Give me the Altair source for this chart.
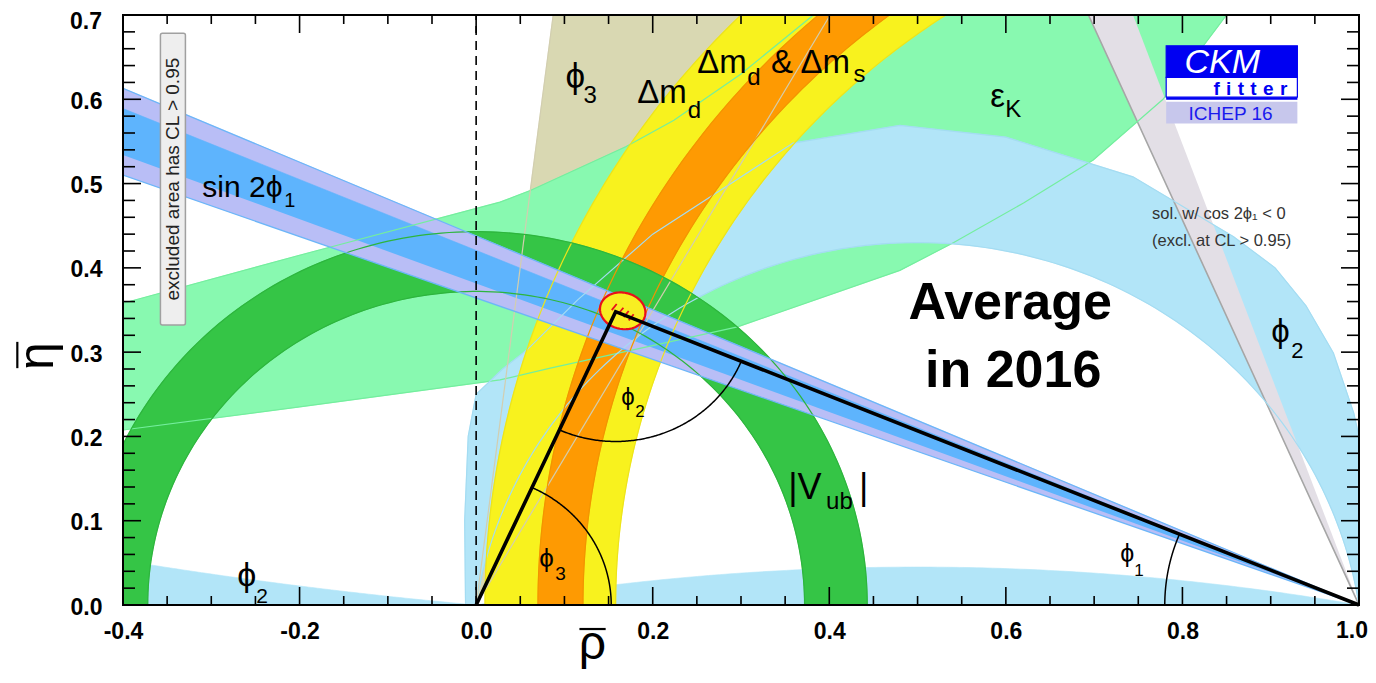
import altair as alt
import numpy as np
import pandas as pd

# ---------------------------------------------------------------- axis data
X_DOMAIN = [-0.4, 1.0]
Y_DOMAIN = [0.0, 0.7]
X_TICKS = [-0.4, -0.2, 0.0, 0.2, 0.4, 0.6, 0.8, 1.0]
Y_TICKS = [0.0, 0.1, 0.2, 0.3, 0.4, 0.5, 0.6, 0.7]
X_MINOR = [-0.35, -0.3, -0.25, -0.15, -0.1, -0.05, 0.05, 0.1, 0.15, 0.25, 0.3,
           0.35, 0.45, 0.5, 0.55, 0.65, 0.7, 0.75, 0.85, 0.9, 0.95]
Y_MINOR = [0.02, 0.04, 0.06, 0.08, 0.12, 0.14, 0.16, 0.18, 0.22, 0.24, 0.26, 0.28,
           0.32, 0.34, 0.36, 0.38, 0.42, 0.44, 0.46, 0.48, 0.52, 0.54, 0.56, 0.58,
           0.62, 0.64, 0.66, 0.68]

# ---------------------------------------------------------------- constraint data
APEX = [0.158, 0.348]                     # fitted apex (rho, eta)
VUB_RADII = [0.372, 0.443]                # |Vub| annulus around (0,0)
DMD_RADII = [0.842, 0.990]                # dm_d annulus around (1,0)
DMS_RADII = [0.879, 0.930]                # dm_d & dm_s annulus around (1,0)
SIN2B_ETA_LEFT = [0.613, 0.589, 0.534, 0.510]   # lines from (1,0): eta at rho=-0.4
GAMMA_RHO_TOP = [0.0873, 0.401]                 # lines from (0,0): rho at eta=0.7
COS2B_RHO_TOP = [0.6935, 0.744]                 # grey wedge from (1,0): rho at eta=0.7
EPSK_UP_RHO = [-0.40, -0.20, 0.027, 0.062, 0.17, 0.224, 0.30, 0.382]
EPSK_UP_ETA = [0.358, 0.415, 0.478, 0.492, 0.544, 0.575, 0.630, 0.700]
EPSK_LO_RHO = [-0.40, -0.20, 0.027, 0.084, 0.296, 0.480, 0.541, 0.620, 0.699, 0.778, 0.850]
EPSK_LO_ETA = [0.2076, 0.235, 0.267, 0.281, 0.330, 0.397, 0.430, 0.477, 0.528, 0.600, 0.700]
ALPHA_OUT_RHO = [-0.012, -0.013, -0.009, 0.000, 0.030, 0.058, 0.115, 0.200, 0.359,
                 0.480, 0.600, 0.744, 0.858, 0.905, 0.940, 0.971, 0.994, 1.000]
ALPHA_OUT_ETA = [0.000, 0.100, 0.200, 0.250, 0.280, 0.303, 0.362, 0.440, 0.548,
                 0.569, 0.555, 0.508, 0.437, 0.400, 0.355, 0.299, 0.228, 0.200]
ALPHA_IN_CIRCLE = [0.5, -0.0757, 0.5057]       # cx, cy, r
ALPHA_LOWR_CIRCLE = [0.5, -2.755, 2.800]
ALPHA_LOWL_CIRCLE = [0.5, 5.33, 5.3534]
FIT_ELLIPSE = [0.166, 0.349, 0.026, 0.0215, -15]  # cx, cy, a, b, tilt(deg)
HATCH_RHO = [0.1564, 0.1640, 0.1700, 0.1756]      # red hatch strokes in the fit ellipse
HATCH_ETA = [0.3535, 0.3491, 0.3452, 0.3413]
ANGLE_RADII = [0.22, 0.154, 0.153]               # phi1 @ (1,0), phi2 @ apex, phi3 @ (0,0)

FONT = "Liberation Sans, DejaVu Sans, sans-serif"
W, H = 1236, 590

XS = alt.Scale(domain=X_DOMAIN, nice=False, zero=False)
YS = alt.Scale(domain=Y_DOMAIN, nice=False, zero=False)
LABEL_EXPR = "replace(format(datum.value, '.1f'), '\u2212', '-')"
XAX = alt.Axis(values=X_TICKS[:-1], labelExpr=LABEL_EXPR, title=None, ticks=False, domain=False,
               grid=False, labelFont=FONT, labelFontWeight="bold", labelFontSize=23,
               labelPadding=15, labelColor="black", labelFlush=False, labelOverlap=False)
YAX = alt.Axis(values=Y_TICKS[:-1], labelExpr=LABEL_EXPR, title=None, ticks=False, domain=False,
               grid=False, labelFont=FONT, labelFontWeight="bold", labelFontSize=23,
               labelPadding=21, labelOffset=2, labelColor="black", labelFlush=False,
               labelOverlap=False)


def xe(f="x"):
    return alt.X(f"{f}:Q", scale=XS, axis=XAX)


def ye(f="y"):
    return alt.Y(f"{f}:Q", scale=YS, axis=YAX)


def arc(cx, cy, r, a0, a1, n=160):
    t = np.radians(np.linspace(a0, a1, n))
    return list(cx + r * np.cos(t)), list(cy + r * np.sin(t))


def poly(xs, ys, fill, stroke=None, sw=0.6, interp="linear"):
    df = pd.DataFrame({"x": xs, "y": ys, "o": np.arange(len(xs))})
    return alt.Chart(df).mark_line(fill=fill, stroke=stroke or fill, strokeWidth=sw,
                                   clip=True, strokeJoin="round", interpolate=interp).encode(
        x=xe(), y=ye(), order="o:Q")


def line(xs, ys, color, sw=1.2, dash=None, clip=True, interp="linear"):
    df = pd.DataFrame({"x": xs, "y": ys, "o": np.arange(len(xs))})
    kw = dict(color=color, strokeWidth=sw, clip=clip, interpolate=interp)
    if dash:
        kw["strokeDash"] = dash
    return alt.Chart(df).mark_line(**kw).encode(x=xe(), y=ye(), order="o:Q")


layers = []

# ---- gamma (phi3) wedge
layers.append(poly([0.0, GAMMA_RHO_TOP[0], GAMMA_RHO_TOP[1]], [0.0, 0.7, 0.7], "#D9D8B2"))

# ---- epsilon_K band
ek_x = EPSK_UP_RHO + EPSK_LO_RHO[::-1]
ek_y = EPSK_UP_ETA + EPSK_LO_ETA[::-1]
layers.append(poly(ek_x, ek_y, "#88F9B0"))

# ---- alpha (phi2) regions
cx, cy, r = ALPHA_IN_CIRCLE
a_start = np.degrees(np.arctan2(0 - cy, 1 - cx))
a_end = 180 - a_start
ix, iy = arc(cx, cy, r, a_start, a_end)
alpha_x = ALPHA_OUT_RHO + [1.0] + ix + [ALPHA_OUT_RHO[0]]
alpha_y = ALPHA_OUT_ETA + [0.0] + iy + [0.0]
layers.append(poly(alpha_x, alpha_y, "#B2E5F8"))

cx, cy, r = ALPHA_LOWR_CIRCLE
a0 = np.degrees(np.arctan2(0 - cy, 1 - cx))
rx_, ry_ = arc(cx, cy, r, a0, 180 - a0)
layers.append(poly(rx_, ry_, "#B2E5F8"))

cx, cy, r = ALPHA_LOWL_CIRCLE
a0 = 360 + np.degrees(np.arctan2(0 - cy, 0 - cx))
lx_, ly_ = arc(cx, cy, r, a0, a0 - 5.5)
layers.append(poly(lx_ + [-0.45], ly_ + [0.0], "#B2E5F8"))

# ---- Delta m_d (yellow) and Delta m_d & Delta m_s (orange)
ox, oy = arc(1.0, 0.0, DMD_RADII[1], 90, 180)
inx, iny = arc(1.0, 0.0, DMD_RADII[0], 180, 90)
layers.append(poly(ox + inx, oy + iny, "#F8F21E"))
ox, oy = arc(1.0, 0.0, DMS_RADII[1], 90, 180)
inx, iny = arc(1.0, 0.0, DMS_RADII[0], 180, 90)
layers.append(poly(ox + inx, oy + iny, "#FE9A02"))

# ---- cos 2phi1 < 0 grey wedge
layers.append(poly([1.0, COS2B_RHO_TOP[0], COS2B_RHO_TOP[1]], [0.0, 0.7, 0.7],
                   "#E3DFE6", stroke="#A6A6A6", sw=1.6))

# ---- |Vub| annulus
ox, oy = arc(0.0, 0.0, VUB_RADII[1], 0, 180)
inx, iny = arc(0.0, 0.0, VUB_RADII[0], 180, 0)
layers.append(poly(ox + inx, oy + iny, "#35C546"))

# ---- sin 2phi1 band
layers.append(poly([1.0, -0.4, -0.4], [0.0, SIN2B_ETA_LEFT[0], SIN2B_ETA_LEFT[3]], "#B9BEF6"))
layers.append(poly([1.0, -0.4, -0.4], [0.0, SIN2B_ETA_LEFT[1], SIN2B_ETA_LEFT[2]], "#5EB4FD"))

# ---- contour lines drawn over the fills
layers.append(line(EPSK_UP_RHO, EPSK_UP_ETA, "#74EE9E"))
layers.append(line(EPSK_LO_RHO, EPSK_LO_ETA, "#74EE9E"))
layers.append(line(ALPHA_OUT_RHO, ALPHA_OUT_ETA, "#A4DCF2"))
cx, cy, r = ALPHA_IN_CIRCLE
ix, iy = arc(cx, cy, r, a_start, a_end)
layers.append(line(ix, iy, "#A4DCF2"))
for g in GAMMA_RHO_TOP:
    layers.append(line([0.0, g], [0.0, 0.7], "#D2CEB0"))
for rr in DMD_RADII:
    ax_, ay_ = arc(1.0, 0.0, rr, 90, 180)
    layers.append(line(ax_, ay_, "#EDE41A"))
for rr in DMS_RADII:
    ax_, ay_ = arc(1.0, 0.0, rr, 90, 180)
    layers.append(line(ax_, ay_, "#F29400"))
for rr in VUB_RADII:
    ax_, ay_ = arc(0.0, 0.0, rr, 0, 180)
    layers.append(line(ax_, ay_, "#2DB53D"))
for e in (SIN2B_ETA_LEFT[0], SIN2B_ETA_LEFT[3]):
    layers.append(line([1.0, -0.4], [0.0, e], "#6CB6F8", sw=1.3))

# ---- fit ellipse with red hatching
ecx, ecy, ea, eb, et = FIT_ELLIPSE
t = np.linspace(0, 2 * np.pi, 90)
th = np.radians(et)
ex = ecx + ea * np.cos(t) * np.cos(th) - eb * np.sin(t) * np.sin(th)
ey = ecy + ea * np.cos(t) * np.sin(th) + eb * np.sin(t) * np.cos(th)
layers.append(poly(list(ex), list(ey), "#F8EE22", stroke="#E8101A", sw=2.2))
hatch = pd.DataFrame({"x": [h - 0.0028 for h in HATCH_RHO], "x2": [h + 0.0028 for h in HATCH_RHO],
                      "y": [h - 0.0036 for h in HATCH_ETA], "y2": [h + 0.0036 for h in HATCH_ETA]})
layers.append(alt.Chart(hatch).mark_rule(color="#E8101A", strokeWidth=1.8).encode(
    x=xe(), x2="x2:Q", y=ye(), y2="y2:Q"))

# ---- unitarity triangle
layers.append(line([0.0, APEX[0], 1.0], [0.0, APEX[1], 0.0], "black", sw=3.6, clip=False))

# ---- angle arcs
ang1 = np.degrees(np.arctan2(APEX[1], APEX[0] - 1.0))
ax_, ay_ = arc(1.0, 0.0, ANGLE_RADII[0], ang1, 180)
layers.append(line(ax_, ay_, "black", sw=1.5))
a_left = np.degrees(np.arctan2(-APEX[1], -APEX[0]))
a_right = np.degrees(np.arctan2(-APEX[1], 1.0 - APEX[0]))
ax_, ay_ = arc(APEX[0], APEX[1], ANGLE_RADII[1], a_left, a_right)
layers.append(line(ax_, ay_, "black", sw=1.5))
ang3 = np.degrees(np.arctan2(APEX[1], APEX[0]))
ax_, ay_ = arc(0.0, 0.0, ANGLE_RADII[2], 0, ang3)
layers.append(line(ax_, ay_, "black", sw=1.5))

# ---- dashed rho = 0 line
layers.append(alt.Chart(pd.DataFrame({"x": [0.0], "y": [0.0], "y2": [0.7]})).mark_rule(
    color="black", strokeWidth=1.6, strokeDash=[9, 6]).encode(x=xe(), y=ye(), y2="y2:Q"))


# ---- inner ticks on all four sides
def tick_layer(vals, axis, length):
    df = pd.DataFrame({"v": vals})
    base = alt.Chart(df).mark_rule(color="black", strokeWidth=1.6)
    if axis == "x":
        return [base.encode(x=xe("v"), y=alt.value(H), y2=alt.value(H - length)),
                base.encode(x=xe("v"), y=alt.value(0), y2=alt.value(length))]
    return [base.encode(y=ye("v"), x=alt.value(0), x2=alt.value(length)),
            base.encode(y=ye("v"), x=alt.value(W), x2=alt.value(W - length))]


layers += tick_layer(X_TICKS, "x", 18)
layers += tick_layer(X_MINOR, "x", 9)
layers += tick_layer(Y_TICKS, "y", 18)
layers += tick_layer(Y_MINOR, "y", 12)

# ---- frame
layers.append(alt.Chart(pd.DataFrame({"a": [0]})).mark_rect(
    fillOpacity=0, stroke="black", strokeWidth=2).encode(
    x=alt.value(0), x2=alt.value(W), y=alt.value(0), y2=alt.value(H)))


# ---- text labels
def texts(rows, color="black", weight="normal", align="left", angle=0, baseline="alphabetic",
          italic=False, dx=0, dy=0):
    df = pd.DataFrame(rows, columns=["t", "x", "y", "s"])
    kw = dict(align=align, baseline=baseline, font=FONT, color=color, fontWeight=weight)
    if angle:
        kw["angle"] = angle
    if italic:
        kw["fontStyle"] = "italic"
    if dx:
        kw["dx"] = dx
    if dy:
        kw["dy"] = dy
    return alt.Chart(df).mark_text(**kw).encode(
        x=xe(), y=ye(), text="t:N", size=alt.Size("s:Q", scale=None, legend=None))


# end tick labels kept fully inside the page
layers.append(texts([["1.0", X_TICKS[-1], 0.0, 23]], weight="bold", align="right",
                    baseline="top", dx=9, dy=15))
layers.append(texts([["0.7", X_TICKS[0], Y_TICKS[-1], 23]], weight="bold", align="right",
                    baseline="top", dx=-21, dy=-4))

LABELS = [
    ["sin 2\u03d5", -0.3102, 0.484, 30], ["1", -0.2173, 0.472, 20],
    ["\u03d5", 0.1012, 0.613, 35], ["3", 0.1216, 0.5955, 24],
    ["\u0394m", 0.1824, 0.5955, 33], ["d", 0.2398, 0.5777, 24],
    ["\u0394m", 0.2504, 0.6311, 33], ["d", 0.3070, 0.6168, 24],
    ["& \u0394m", 0.3340, 0.6311, 33], ["s", 0.4274, 0.6204, 24],
    ["\u03b5", 0.5824, 0.5907, 33], ["K", 0.5994, 0.5789, 24],
    ["|V", 0.3534, 0.1257, 36], ["ub", 0.3964, 0.1139, 24], ["|", 0.4337, 0.1257, 36],
    ["\u03d5", 0.9007, 0.312, 33], ["2", 0.9233, 0.293, 22],
    ["\u03d5", -0.2705, 0.0225, 34], ["2", -0.249, 0.0024, 21],
    ["\u03d5", 0.0716, 0.0450, 26], ["3", 0.0897, 0.0297, 19],
    ["\u03d5", 0.1643, 0.2378, 24], ["2", 0.1802, 0.223, 17],
    ["\u03d5", 0.7296, 0.0510, 25], ["1", 0.7455, 0.0350, 17],
]
layers.append(texts(LABELS))
layers.append(texts([["Average", 0.6049, 0.3393, 52], ["in 2016", 0.6083, 0.2586, 52]],
                    weight="bold", align="center"))
layers.append(texts([["sol. w/ cos 2\u03d5\u2081 < 0", 0.7656, 0.458, 16.5],
                     ["(excl. at CL > 0.95)", 0.7656, 0.4259, 16.5]], color="#333333"))

# ---- "excluded area" box
layers.append(alt.Chart(pd.DataFrame({"x": [-0.3576], "x2": [-0.3293], "y": [0.6782], "y2": [0.3321]}))
              .mark_rect(fill="#EEEEEE", stroke="#A0A0A0", strokeWidth=1.5, cornerRadius=2)
              .encode(x=xe(), x2="x2:Q", y=ye(), y2="y2:Q"))
layers.append(texts([["excluded area has CL > 0.95", -0.3436, 0.5053, 19]], color="#222222",
                    align="center", angle=270, baseline="middle"))

# ---- CKMfitter logo
LOGO_BLUE = pd.DataFrame({"x": [0.7816, 0.7816], "x2": [0.9302, 0.9302],
                          "y": [0.6635, 0.626], "y2": [0.626, 0.6025],
                          "c": ["#0000F2", "#FFFFFF"]})
layers.append(alt.Chart(LOGO_BLUE).mark_rect(stroke="#0000F2", strokeWidth=1.2).encode(
    x=xe(), x2="x2:Q", y=ye(), y2="y2:Q", fill=alt.Fill("c:N", scale=None, legend=None)))
LOGO_BAR = pd.DataFrame({"x": [0.7816, 0.7816], "x2": [0.9302, 0.9302],
                         "y": [0.6025, 0.5971], "y2": [0.5995, 0.5714],
                         "c": ["#0000F2", "#C7C7EC"]})
layers.append(alt.Chart(LOGO_BAR).mark_rect().encode(
    x=xe(), x2="x2:Q", y=ye(), y2="y2:Q", fill=alt.Fill("c:N", scale=None, legend=None)))
layers.append(texts([["CKM", 0.8452, 0.6310, 34]], color="white", align="center", italic=True))
layers.append(texts([["f\u2004i\u2004t\u2004t\u2004e\u2004r", 0.9188, 0.6055, 19]],
                    color="#0000F2", weight="bold", align="right"))
layers.append(texts([["ICHEP 16", 0.8545, 0.5753, 19]], color="#1A1AEE", align="center"))

# ---- axis titles (symbol + overbar)
layers.append(texts([["\u03c1", 0.1318, -0.0640, 48]], align="center"))
layers.append(line([0.117, 0.1467], [-0.0285, -0.0285], "black", sw=2.2, clip=False))
layers.append(texts([["\u03b7", -0.496, 0.2954, 50]], align="center", angle=270,
                    baseline="middle"))
layers.append(line([-0.5197, -0.5197], [0.281, 0.3122], "black", sw=2.2, clip=False))

chart = alt.layer(*layers).properties(
    width=W, height=H,
    padding={"left": 115, "top": 7, "right": 9, "bottom": 66},
    autosize=alt.AutoSizeParams(type="none"),
).configure_view(stroke=None).configure(font=FONT)

chart.save("out.html", embed_options={"renderer": "svg", "actions": False})
